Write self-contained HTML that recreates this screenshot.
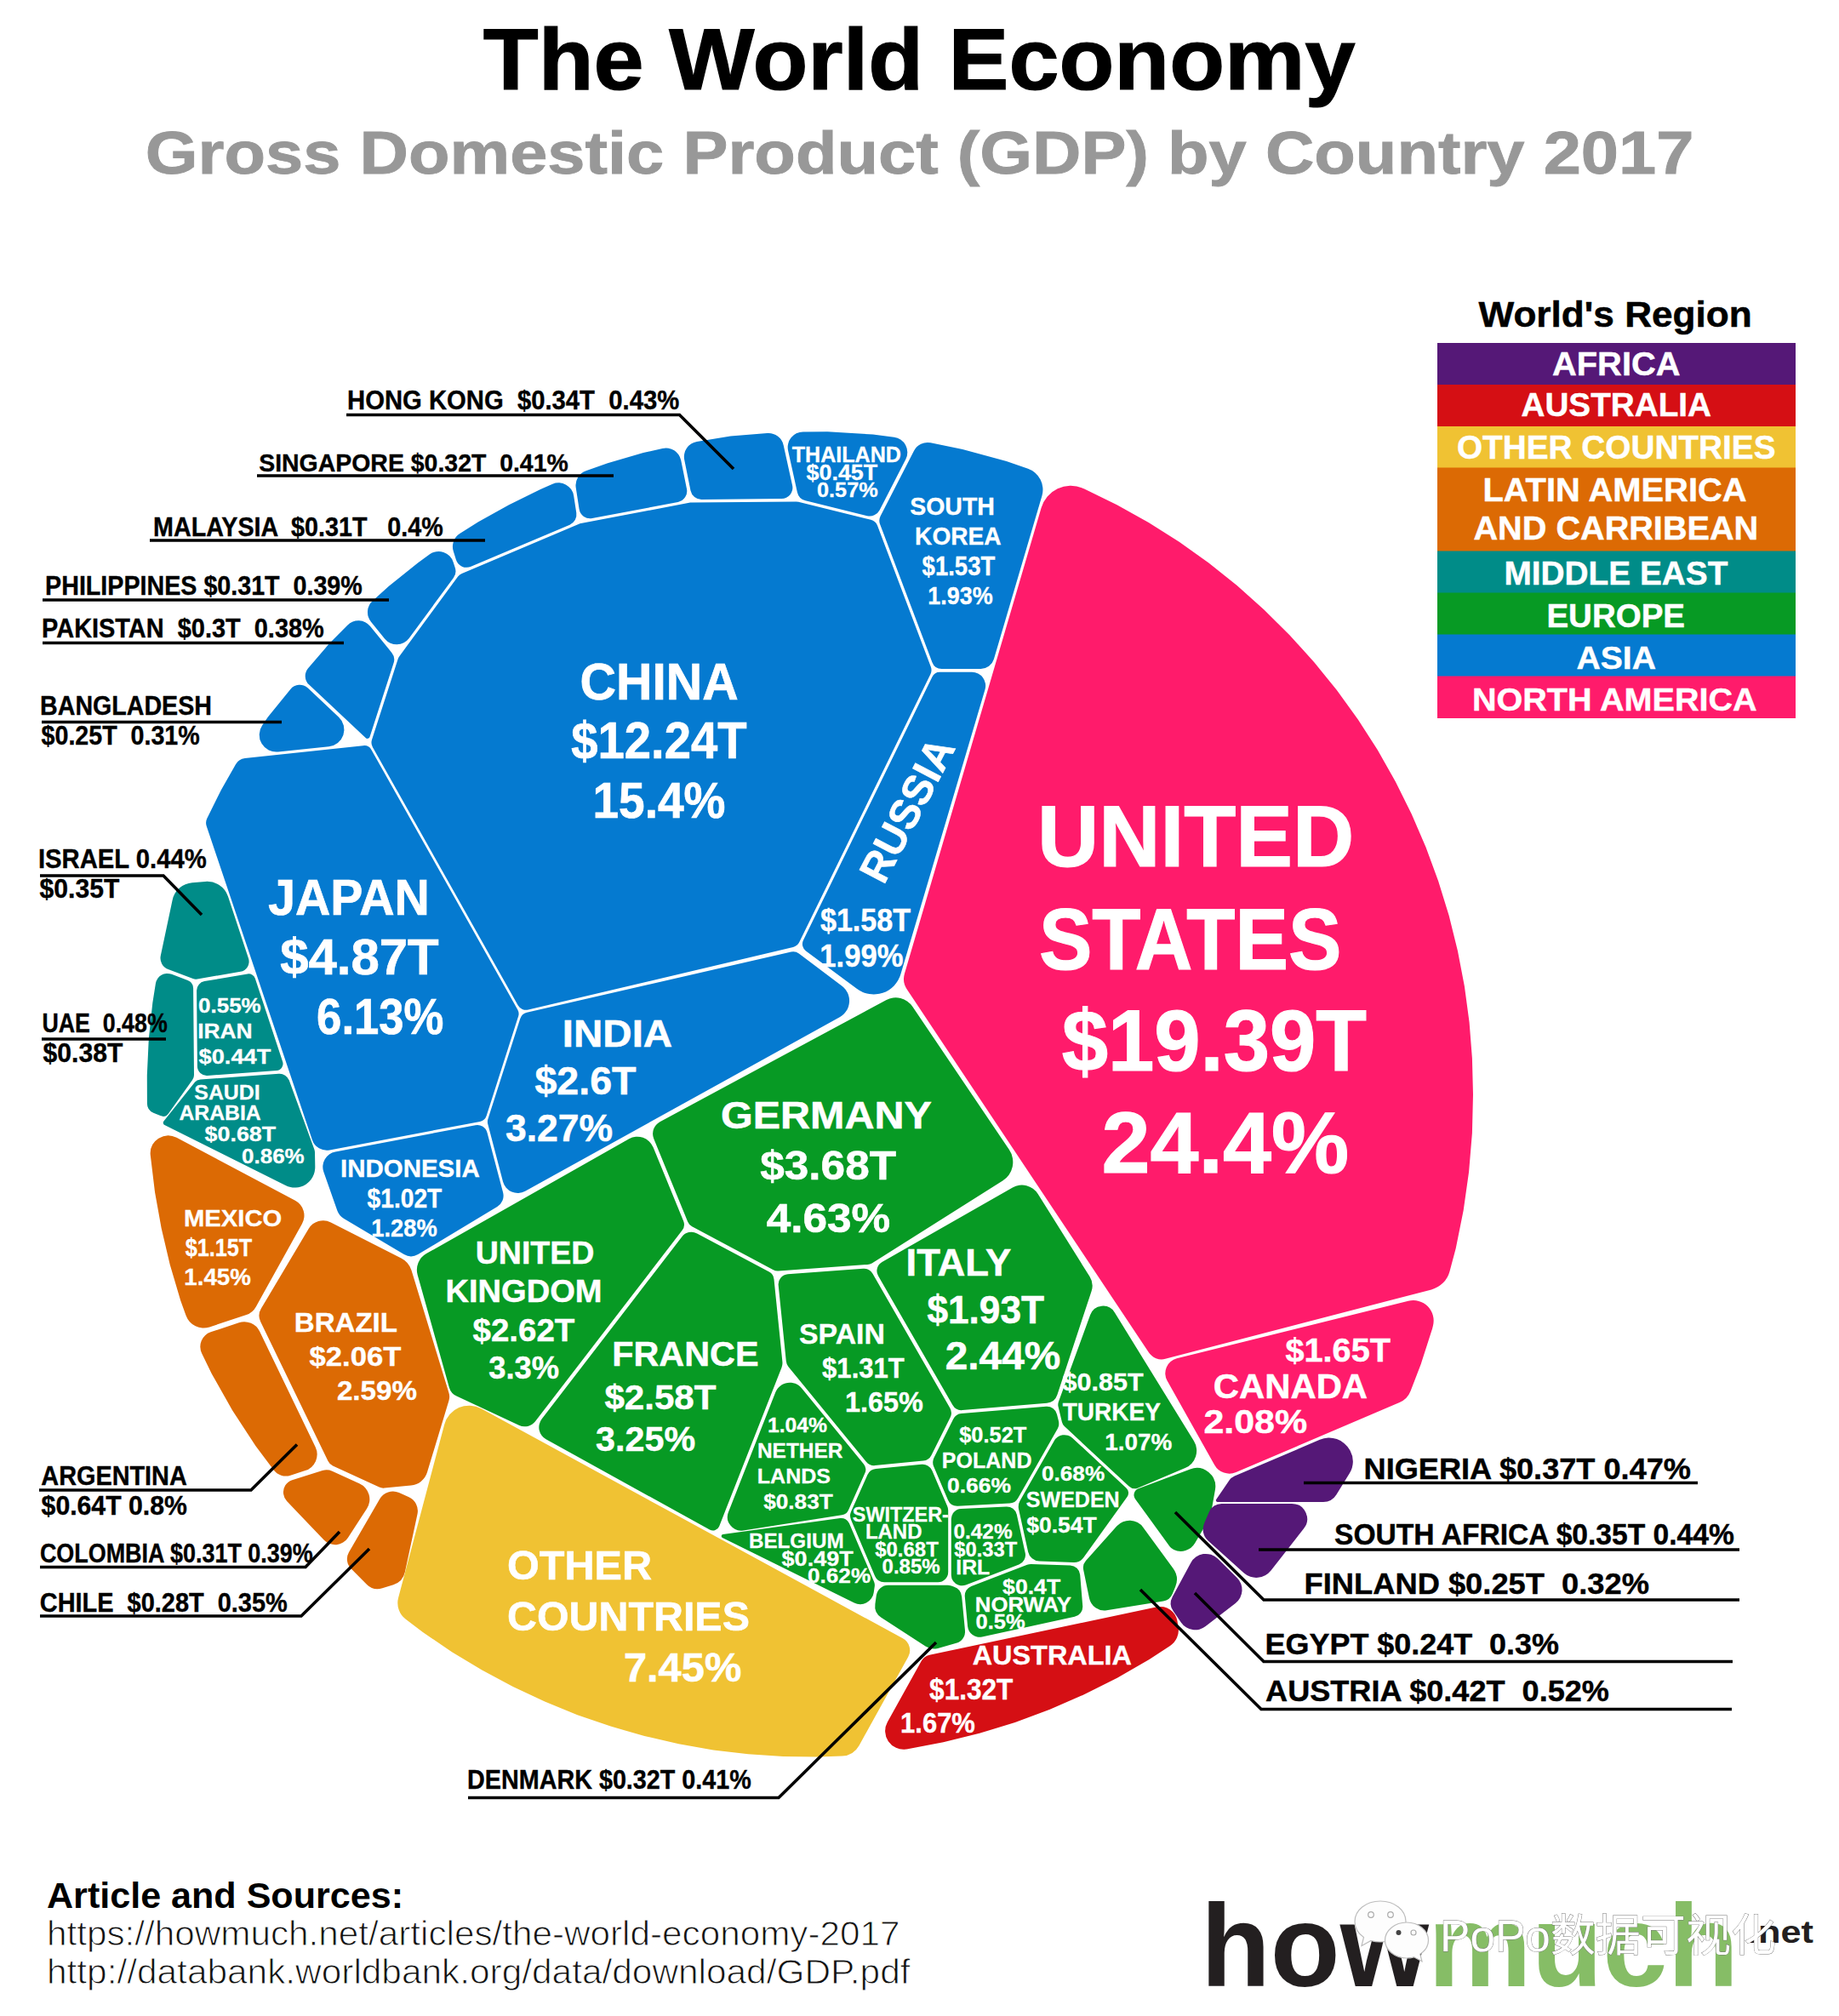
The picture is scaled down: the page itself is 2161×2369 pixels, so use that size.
<!DOCTYPE html><html><head><meta charset="utf-8"><title>The World Economy</title>
<style>html,body{margin:0;padding:0;background:#fff}svg{display:block}text{font-family:"Liberation Sans","Noto Sans CJK SC",sans-serif;font-weight:bold}.lt text,text.wm{font-weight:normal}</style></head><body>
<svg xmlns="http://www.w3.org/2000/svg" width="2161" height="2369" viewBox="0 0 2161 2369">
<rect width="2161" height="2369" fill="#fff"/>
<rect x="1689" y="403.0" width="421" height="49.5" fill="#551877"/>
<rect x="1689" y="452.0" width="421" height="49.5" fill="#d50f14"/>
<rect x="1689" y="501.0" width="421" height="49.0" fill="#f0c233"/>
<rect x="1689" y="549.5" width="421" height="98.5" fill="#dc6a04"/>
<rect x="1689" y="647.5" width="421" height="49.5" fill="#008c88"/>
<rect x="1689" y="696.5" width="421" height="49.5" fill="#079a24"/>
<rect x="1689" y="745.5" width="421" height="49.5" fill="#057ad0"/>
<rect x="1689" y="794.5" width="421" height="49.5" fill="#ff1b6b"/>
<g>
<path d="M804.2 540.3A18.0 18.0 0 0 1 818.9 519.0L858.4 512.6L901.6 509.1A18.0 18.0 0 0 1 920.7 523.2L931.1 570.4A13.0 13.0 0 0 1 918.5 586.1L824.3 586.9A13.0 13.0 0 0 1 811.5 576.5Z" fill="#057ad0"/>
<path d="M676.7 572.9A18.0 18.0 0 0 1 688.6 553.2L714.1 544.2L756.0 532.1L778.5 526.9A18.0 18.0 0 0 1 800.2 540.8L807.0 574.5A13.0 13.0 0 0 1 796.7 589.9L695.9 609.1A13.0 13.0 0 0 1 680.6 598.3Z" fill="#057ad0"/>
<path d="M532.8 647.8A18.0 18.0 0 0 1 540.3 627.1L562.1 613.3L598.1 593.2L635.1 574.9L649.3 568.8A18.0 18.0 0 0 1 674.2 582.7L677.3 602.8A13.0 13.0 0 0 1 669.5 616.7L553.4 665.8A13.0 13.0 0 0 1 535.9 657.7Z" fill="#057ad0"/>
<path d="M436.0 730.8A18.0 18.0 0 0 1 437.9 706.1L456.7 689.0L491.3 661.2L505.0 651.3A18.0 18.0 0 0 1 532.6 660.5L534.8 667.3A13.0 13.0 0 0 1 532.9 679.0L480.7 750.0A18.0 18.0 0 0 1 452.2 750.7Z" fill="#057ad0"/>
<path d="M363.1 804.6A14.0 14.0 0 0 1 362.1 785.3L386.7 756.6L408.3 734.7A18.0 18.0 0 0 1 435.1 735.9L460.3 766.9A13.0 13.0 0 0 1 462.6 779.1L434.5 865.9A3.0 3.0 0 0 1 429.6 867.1Z" fill="#057ad0"/>
<path d="M326.8 883.5A20.0 20.0 0 0 1 308.2 852.3L314.9 842.6L341.3 810.0A14.0 14.0 0 0 1 361.8 808.6L398.1 842.7A20.0 20.0 0 0 1 386.5 877.2Z" fill="#057ad0"/>
<path d="M242.7 970.7A12.0 12.0 0 0 1 243.4 961.5L259.9 928.2L277.1 897.9A14.0 14.0 0 0 1 287.8 890.9L426.7 876.2A10.0 10.0 0 0 1 436.5 881.2L608.3 1186.4A10.0 10.0 0 0 1 609.1 1194.3L571.7 1311.1A10.0 10.0 0 0 1 564.1 1317.9L387.4 1351.5A18.0 18.0 0 0 1 366.9 1339.5Z" fill="#057ad0"/>
<path d="M538.1 677.6A11.0 11.0 0 0 1 542.7 674.0L680.3 615.8A11.0 11.0 0 0 1 682.6 615.1L811.2 590.6A11.0 11.0 0 0 1 813.1 590.4L935.5 589.4A11.0 11.0 0 0 1 938.2 589.7L1023.3 610.8A11.0 11.0 0 0 1 1031.0 617.6L1093.8 783.5A11.0 11.0 0 0 1 1093.4 792.2L939.3 1107.1A11.0 11.0 0 0 1 932.0 1113.0L620.8 1186.5A11.0 11.0 0 0 1 608.6 1181.2L437.9 878.0A11.0 11.0 0 0 1 437.0 869.3L467.7 774.3A11.0 11.0 0 0 1 469.3 771.2Z" fill="#057ad0"/>
<path d="M926.1 529.4A18.0 18.0 0 0 1 943.6 507.5L972.4 507.3L1025.8 510.5L1050.6 513.7A18.0 18.0 0 0 1 1064.3 539.8L1033.6 599.5A13.0 13.0 0 0 1 1019.0 606.2L946.5 588.3A13.0 13.0 0 0 1 936.9 578.5Z" fill="#057ad0"/>
<path d="M1074.0 529.8A18.0 18.0 0 0 1 1093.5 520.3L1131.1 527.9L1182.7 541.9L1208.0 550.8A26.0 26.0 0 0 1 1224.4 582.7L1167.9 774.5A16.0 16.0 0 0 1 1152.5 786.0L1106.7 786.0A12.0 12.0 0 0 1 1095.4 778.2L1034.1 616.1A12.0 12.0 0 0 1 1034.6 606.4Z" fill="#057ad0"/>
<path d="M1095.4 795.4A10.0 10.0 0 0 1 1104.4 789.8L1142.2 789.8A16.0 16.0 0 0 1 1157.5 810.3L1058.4 1144.8A33.0 33.0 0 0 1 1007.1 1162.0L947.0 1117.4A10.0 10.0 0 0 1 943.9 1105.0Z" fill="#057ad0"/>
<path d="M611.2 1197.2A11.0 11.0 0 0 1 619.2 1189.8L929.7 1118.6A11.0 11.0 0 0 1 938.8 1120.6L989.2 1158.4A22.0 22.0 0 0 1 986.7 1195.3L617.1 1399.7A18.0 18.0 0 0 1 591.0 1388.5L573.3 1321.1A11.0 11.0 0 0 1 573.4 1315.0Z" fill="#057ad0"/>
<path d="M380.3 1377.1A18.0 18.0 0 0 1 394.0 1353.5L558.7 1322.2A12.0 12.0 0 0 1 572.5 1330.9L591.1 1401.3A15.0 15.0 0 0 1 584.3 1418.0L491.2 1474.0A16.0 16.0 0 0 1 474.8 1474.0L404.1 1432.1A18.0 18.0 0 0 1 396.3 1422.6Z" fill="#057ad0"/>
<path d="M202.6 1057.7A26.0 26.0 0 0 1 225.9 1037.2L241.1 1035.9A26.0 26.0 0 0 1 268.0 1053.6L292.0 1126.2A12.0 12.0 0 0 1 282.6 1141.8L231.9 1150.5A10.0 10.0 0 0 1 226.7 1150.0L197.6 1139.0A14.0 14.0 0 0 1 188.8 1123.0Z" fill="#008c88"/>
<path d="M182.9 1155.7A14.0 14.0 0 0 1 201.7 1144.8L220.6 1152.0A10.0 10.0 0 0 1 227.1 1161.2L228.0 1263.1A10.0 10.0 0 0 1 226.1 1269.0L198.0 1308.4A8.0 8.0 0 0 1 188.4 1311.1L180.3 1307.7A12.0 12.0 0 0 1 172.9 1296.7L172.8 1263.4L174.8 1220.8L179.3 1178.5Z" fill="#008c88"/>
<path d="M231.1 1164.0A11.0 11.0 0 0 1 240.2 1153.1L290.9 1144.4A8.0 8.0 0 0 1 299.8 1149.8L332.1 1247.5A8.0 8.0 0 0 1 325.1 1258.0L243.7 1264.0A11.0 11.0 0 0 1 231.9 1253.1Z" fill="#008c88"/>
<path d="M228.3 1272.4A10.0 10.0 0 0 1 235.4 1268.6L327.6 1261.8A12.0 12.0 0 0 1 339.8 1269.6L369.4 1350.8A10.0 10.0 0 0 1 370.0 1354.1L370.3 1371.2A24.0 24.0 0 0 1 335.6 1393.1L193.4 1322.0A3.0 3.0 0 0 1 192.4 1317.4Z" fill="#008c88"/>
<path d="M176.7 1356.6A21.0 21.0 0 0 1 207.5 1336.8L346.9 1410.7A20.0 20.0 0 0 1 355.0 1438.0L300.7 1535.7A20.0 20.0 0 0 1 289.6 1545.0L246.2 1559.4A22.0 22.0 0 0 1 218.6 1546.0L212.1 1527.9L199.7 1486.1L189.7 1443.6L182.0 1400.7L176.8 1357.4Z" fill="#dc6a04"/>
<path d="M362.6 1444.0A20.0 20.0 0 0 1 388.8 1436.4L471.4 1478.5A24.0 24.0 0 0 1 483.5 1492.8L527.4 1636.4A16.0 16.0 0 0 1 527.5 1645.7L502.0 1730.1A22.0 22.0 0 0 1 483.0 1745.6L451.7 1748.6A12.0 12.0 0 0 1 445.6 1747.6L391.1 1722.5A12.0 12.0 0 0 1 385.4 1716.8L306.1 1552.9A16.0 16.0 0 0 1 306.8 1537.8Z" fill="#dc6a04"/>
<path d="M237.1 1590.2A18.0 18.0 0 0 1 247.6 1565.3L280.8 1554.2A20.0 20.0 0 0 1 305.1 1564.5L370.7 1700.4A20.0 20.0 0 0 1 358.7 1728.1L341.3 1733.7A18.0 18.0 0 0 1 321.5 1727.3L300.5 1699.3L273.2 1657.6L248.6 1614.0Z" fill="#dc6a04"/>
<path d="M333.1 1755.6A14.8 14.8 0 0 1 343.3 1739.3L378.9 1728.1A16.0 16.0 0 0 1 390.4 1728.8L422.7 1743.6A20.0 20.0 0 0 1 431.1 1772.7L408.9 1807.0A18.0 18.0 0 0 1 380.8 1809.7L337.1 1764.1A14.8 14.8 0 0 1 333.2 1755.9Z" fill="#dc6a04"/>
<path d="M446.2 1761.6A18.0 18.0 0 0 1 468.9 1754.1L480.0 1758.9A18.0 18.0 0 0 1 490.5 1779.2L475.9 1847.3A20.0 20.0 0 0 1 462.3 1862.2L449.3 1866.3A18.0 18.0 0 0 1 431.1 1861.9L412.5 1843.2A16.0 16.0 0 0 1 410.0 1823.9Z" fill="#dc6a04"/>
<path d="M522.2 1673.9A30.0 30.0 0 0 1 565.5 1655.3L1060.9 1925.3A16.0 16.0 0 0 1 1067.2 1947.1L1009.5 2051.2A24.0 24.0 0 0 1 989.5 2063.5L961.7 2064.6L920.4 2064.1L879.2 2061.3L838.2 2056.4L797.5 2049.3L757.3 2040.0L717.5 2028.6L678.5 2015.2L640.2 1999.6L602.8 1982.1L566.4 1962.6L531.0 1941.2L496.9 1918.0L476.8 1902.7A24.0 24.0 0 0 1 468.1 1877.5Z" fill="#f0c233"/>
<path d="M1041.2 1175.2A24.0 24.0 0 0 1 1072.4 1182.9L1185.9 1351.1A26.0 26.0 0 0 1 1178.2 1387.6L1024.6 1484.4A11.0 11.0 0 0 1 1019.5 1486.0L914.6 1493.5A11.0 11.0 0 0 1 908.7 1492.3L813.2 1441.3A11.0 11.0 0 0 1 808.2 1435.8L768.3 1338.3A16.0 16.0 0 0 1 775.5 1318.2Z" fill="#079a24"/>
<path d="M739.2 1338.3A20.0 20.0 0 0 1 767.5 1348.1L803.1 1434.8A11.0 11.0 0 0 1 801.6 1445.7L629.2 1670.1A16.0 16.0 0 0 1 609.7 1674.8L536.5 1640.5A16.0 16.0 0 0 1 527.9 1630.4L490.7 1498.2A22.0 22.0 0 0 1 501.1 1473.1Z" fill="#079a24"/>
<path d="M801.4 1453.2A14.0 14.0 0 0 1 819.1 1449.4L903.8 1494.6A11.0 11.0 0 0 1 909.5 1503.2L919.4 1600.3A14.0 14.0 0 0 1 918.5 1606.9L845.2 1793.4A8.0 8.0 0 0 1 833.9 1797.5L641.6 1691.3A16.0 16.0 0 0 1 636.6 1667.6Z" fill="#079a24"/>
<path d="M914.7 1510.3A12.0 12.0 0 0 1 925.8 1497.2L1014.3 1490.8A12.0 12.0 0 0 1 1025.5 1496.8L1116.3 1654.5A12.0 12.0 0 0 1 1116.6 1665.8L1094.5 1710.0A12.0 12.0 0 0 1 1085.0 1716.6L1028.3 1722.1A12.0 12.0 0 0 1 1017.9 1717.7L926.4 1605.9A12.0 12.0 0 0 1 923.8 1599.5Z" fill="#079a24"/>
<path d="M1032.0 1499.3A12.0 12.0 0 0 1 1036.5 1482.9L1189.9 1395.4A22.0 22.0 0 0 1 1219.5 1402.8L1280.6 1500.3A20.0 20.0 0 0 1 1282.6 1517.2L1242.3 1639.2A14.0 14.0 0 0 1 1230.2 1648.7L1130.8 1657.1A12.0 12.0 0 0 1 1119.4 1651.1Z" fill="#079a24"/>
<path d="M911.3 1636.1A18.0 18.0 0 0 1 942.0 1631.3L1015.0 1720.5A10.0 10.0 0 0 1 1016.4 1730.9L997.0 1774.4A10.0 10.0 0 0 1 989.4 1780.2L873.4 1798.4A16.0 16.0 0 0 1 856.0 1776.7Z" fill="#079a24"/>
<path d="M848.9 1806.9A2.0 2.0 0 0 1 849.5 1803.1L987.3 1784.0A10.0 10.0 0 0 1 997.9 1790.0L1027.1 1858.7A10.0 10.0 0 0 1 1027.8 1864.0L1026.7 1871.4A16.0 16.0 0 0 1 1003.8 1883.5Z" fill="#079a24"/>
<path d="M1019.4 1733.1A12.0 12.0 0 0 1 1029.2 1726.0L1083.1 1720.8A12.0 12.0 0 0 1 1095.3 1728.0L1113.2 1770.1A12.0 12.0 0 0 1 1114.2 1774.8L1114.2 1847.2A12.0 12.0 0 0 1 1102.2 1859.2L1039.1 1859.2A12.0 12.0 0 0 1 1028.1 1851.9L1000.0 1785.8A12.0 12.0 0 0 1 1000.1 1776.2Z" fill="#079a24"/>
<path d="M1097.2 1723.2A12.0 12.0 0 0 1 1097.5 1713.1L1120.1 1667.7A12.0 12.0 0 0 1 1129.9 1661.1L1229.3 1652.8A12.0 12.0 0 0 1 1242.0 1661.9L1244.0 1670.1A12.0 12.0 0 0 1 1242.7 1678.9L1196.2 1760.5A12.0 12.0 0 0 1 1186.4 1766.6L1125.5 1769.7A12.0 12.0 0 0 1 1113.9 1762.4Z" fill="#079a24"/>
<path d="M1117.8 1785.1A12.0 12.0 0 0 1 1129.2 1773.1L1182.4 1770.4A12.0 12.0 0 0 1 1194.8 1779.8L1204.7 1824.8A12.0 12.0 0 0 1 1197.3 1838.6L1135.0 1862.5A12.0 12.0 0 0 1 1126.9 1862.7L1126.0 1862.4A12.0 12.0 0 0 1 1117.8 1851.1Z" fill="#079a24"/>
<path d="M1238.7 1693.2A14.0 14.0 0 0 1 1260.4 1689.9L1323.4 1748.4A8.0 8.0 0 0 1 1324.5 1759.0L1273.5 1830.1A14.0 14.0 0 0 1 1261.6 1835.9L1221.3 1834.6A14.0 14.0 0 0 1 1208.1 1823.6L1197.1 1773.6A14.0 14.0 0 0 1 1198.6 1763.6Z" fill="#079a24"/>
<path d="M1281.1 1545.2A16.0 16.0 0 0 1 1309.8 1542.2L1402.9 1693.3A22.0 22.0 0 0 1 1392.7 1725.1L1337.3 1748.4A10.0 10.0 0 0 1 1326.6 1746.5L1250.8 1676.1A10.0 10.0 0 0 1 1247.9 1671.1L1243.6 1653.0A10.0 10.0 0 0 1 1243.9 1647.3Z" fill="#079a24"/>
<path d="M1334.0 1761.4A8.0 8.0 0 0 1 1337.7 1749.2L1398.5 1726.4A22.0 22.0 0 0 1 1427.9 1750.8L1422.8 1779.6A16.0 16.0 0 0 1 1420.9 1784.8L1404.2 1813.3A19.3 19.3 0 0 1 1379.2 1821.0L1378.9 1820.8A11.6 11.6 0 0 1 1374.5 1817.2Z" fill="#079a24"/>
<path d="M1312.4 1793.3A20.0 20.0 0 0 1 1343.4 1794.9L1378.7 1843.3A22.0 22.0 0 0 1 1381.2 1864.6L1377.7 1873.1A14.0 14.0 0 0 1 1367.0 1881.6L1300.5 1892.2A18.0 18.0 0 0 1 1280.0 1878.0L1273.1 1844.4A12.0 12.0 0 0 1 1276.0 1834.0Z" fill="#079a24"/>
<path d="M1133.8 1876.3A12.0 12.0 0 0 1 1141.4 1863.9L1207.0 1838.7A12.0 12.0 0 0 1 1211.7 1837.9L1257.6 1839.4A12.0 12.0 0 0 1 1269.2 1850.4L1272.2 1887.1A12.0 12.0 0 0 1 1262.8 1899.8L1154.0 1923.5A14.0 14.0 0 0 1 1137.1 1911.1Z" fill="#079a24"/>
<path d="M1029.8 1874.8A14.0 14.0 0 0 1 1043.7 1862.8L1113.4 1862.8A14.0 14.0 0 0 1 1117.9 1863.5L1120.7 1864.5A14.0 14.0 0 0 1 1130.2 1876.4L1134.0 1916.0A14.0 14.0 0 0 1 1123.8 1930.8L1102.1 1936.9A18.0 18.0 0 0 1 1087.5 1934.6L1035.5 1900.7A16.0 16.0 0 0 1 1028.4 1885.0Z" fill="#079a24"/>
<path d="M1082.9 1951.6A14.0 14.0 0 0 1 1092.2 1944.7L1359.6 1888.3A20.0 20.0 0 0 1 1383.4 1904.6L1384.6 1911.8A22.0 22.0 0 0 1 1375.0 1933.9L1350.5 1949.9L1312.8 1971.7L1273.8 1991.3L1233.7 2008.8L1192.8 2024.0L1151.0 2036.8L1108.5 2047.3L1065.4 2055.4L1064.6 2055.5A21.6 21.6 0 0 1 1042.9 2023.5Z" fill="#d50f14"/>
<path d="M1430.8 1765.0A2.0 2.0 0 0 1 1429.2 1761.9L1444.7 1739.3A14.0 14.0 0 0 1 1450.7 1734.4L1550.9 1691.8A27.9 27.9 0 0 1 1586.2 1704.0L1586.6 1704.7A26.0 26.0 0 0 1 1586.0 1730.9L1570.3 1756.5A18.0 18.0 0 0 1 1555.0 1765.0Z" fill="#551877"/>
<path d="M1420.8 1776.7A16.0 16.0 0 0 1 1435.6 1767.0L1518.0 1767.0A18.0 18.0 0 0 1 1532.2 1796.1L1493.5 1845.5A22.0 22.0 0 0 1 1461.5 1848.3L1419.6 1810.6A18.0 18.0 0 0 1 1415.1 1790.1Z" fill="#551877"/>
<path d="M1399.3 1836.4A20.0 20.0 0 0 1 1430.9 1831.6L1453.6 1853.9A20.0 20.0 0 0 1 1451.8 1884.0L1416.7 1911.1A20.0 20.0 0 0 1 1388.0 1906.7L1378.6 1893.1A16.0 16.0 0 0 1 1377.7 1876.4Z" fill="#551877"/>
<path d="M1223.6 596.7A36.0 36.0 0 0 1 1272.2 573.7L1274.2 574.6L1312.5 593.3L1349.7 614.1L1385.7 636.8L1420.4 661.5L1453.6 688.1L1485.4 716.4L1515.6 746.4L1544.1 777.9L1570.9 811.0L1595.8 845.5L1618.8 881.3L1639.7 918.3L1658.7 956.4L1675.5 995.5L1690.2 1035.4L1702.7 1076.0L1712.9 1117.3L1720.9 1159.0L1726.6 1201.2L1729.9 1243.5L1731.0 1286.0L1729.9 1331.6L1726.1 1377.0L1719.7 1422.2L1710.7 1466.9L1703.5 1494.0A30.0 30.0 0 0 1 1682.0 1515.4L1369.4 1596.8A18.0 18.0 0 0 1 1349.9 1589.3L1065.7 1162.5A22.0 22.0 0 0 1 1062.9 1144.2Z" fill="#ff1b6b"/>
<path d="M1371.6 1622.6A18.0 18.0 0 0 1 1382.9 1596.3L1654.9 1528.7A24.0 24.0 0 0 1 1683.9 1558.0L1683.1 1561.2L1669.7 1602.9L1657.6 1634.5A24.0 24.0 0 0 1 1644.6 1648.0L1452.5 1730.0A20.0 20.0 0 0 1 1427.2 1721.4Z" fill="#ff1b6b"/>
</g>
<g fill="none" stroke="#000" stroke-width="3.6" stroke-linejoin="miter">
<polyline points="407.0,487.5 798.5,487.5 862.0,551.0"/>
<polyline points="302.0,559.0 721.0,559.0"/>
<polyline points="176.0,635.0 570.0,635.0"/>
<polyline points="50.0,705.0 457.0,705.0"/>
<polyline points="50.0,755.5 404.0,755.5"/>
<polyline points="49.0,848.5 331.0,848.5"/>
<polyline points="47.0,1029.0 192.0,1029.0 237.0,1075.0"/>
<polyline points="49.0,1221.0 195.0,1221.0"/>
<polyline points="46.0,1751.0 295.0,1751.0 349.0,1697.5"/>
<polyline points="47.0,1841.5 359.0,1841.5 399.0,1800.0"/>
<polyline points="47.0,1899.0 354.0,1899.0 434.0,1820.0"/>
<polyline points="550.0,2112.5 915.0,2112.5 1100.0,1930.0"/>
<polyline points="1532.0,1742.5 1995.0,1742.5"/>
<polyline points="1479.0,1821.0 2044.0,1821.0"/>
<polyline points="2044.0,1880.0 1485.0,1880.0 1381.0,1777.0"/>
<polyline points="2036.0,1952.5 1485.0,1952.5 1404.0,1872.0"/>
<polyline points="2035.0,2008.5 1482.0,2008.5 1340.0,1868.0"/>
</g>
<text x="567.8" y="104.5" font-size="102.5" textLength="1024.8" lengthAdjust="spacingAndGlyphs" fill="#000" stroke="#000" stroke-width="1.23" xml:space="preserve">The World Economy</text>
<text x="170.7" y="203.5" font-size="71.2" textLength="1819.8" lengthAdjust="spacingAndGlyphs" fill="#989898" stroke="#989898" stroke-width="0.85" xml:space="preserve">Gross Domestic Product (GDP) by Country 2017</text>
<text x="1737.5" y="384.0" font-size="42.2" textLength="321.3" lengthAdjust="spacingAndGlyphs" fill="#000" stroke="#000" stroke-width="0.51" xml:space="preserve">World's Region</text>
<text x="1824.0" y="441.0" font-size="39.2" textLength="150.5" lengthAdjust="spacingAndGlyphs" fill="#fff" stroke="#fff" stroke-width="0.47" xml:space="preserve">AFRICA</text>
<text x="1787.5" y="489.0" font-size="38.5" textLength="223.5" lengthAdjust="spacingAndGlyphs" fill="#fff" stroke="#fff" stroke-width="0.46" xml:space="preserve">AUSTRALIA</text>
<text x="1711.9" y="539.0" font-size="38.5" textLength="374.6" lengthAdjust="spacingAndGlyphs" fill="#fff" stroke="#fff" stroke-width="0.46" xml:space="preserve">OTHER COUNTRIES</text>
<text x="1742.4" y="589.0" font-size="38.5" textLength="310.2" lengthAdjust="spacingAndGlyphs" fill="#fff" stroke="#fff" stroke-width="0.46" xml:space="preserve">LATIN AMERICA</text>
<text x="1731.5" y="633.5" font-size="39.2" textLength="334.7" lengthAdjust="spacingAndGlyphs" fill="#fff" stroke="#fff" stroke-width="0.47" xml:space="preserve">AND CARRIBEAN</text>
<text x="1767.4" y="687.0" font-size="39.2" textLength="263.0" lengthAdjust="spacingAndGlyphs" fill="#fff" stroke="#fff" stroke-width="0.47" xml:space="preserve">MIDDLE EAST</text>
<text x="1817.4" y="736.5" font-size="38.5" textLength="162.6" lengthAdjust="spacingAndGlyphs" fill="#fff" stroke="#fff" stroke-width="0.46" xml:space="preserve">EUROPE</text>
<text x="1852.5" y="786.0" font-size="37.8" textLength="93.5" lengthAdjust="spacingAndGlyphs" fill="#fff" stroke="#fff" stroke-width="0.45" xml:space="preserve">ASIA</text>
<text x="1729.9" y="835.0" font-size="37.8" textLength="334.7" lengthAdjust="spacingAndGlyphs" fill="#fff" stroke="#fff" stroke-width="0.45" xml:space="preserve">NORTH AMERICA</text>
<text x="408.0" y="481.0" font-size="30.5" textLength="390.2" lengthAdjust="spacingAndGlyphs" fill="#000" stroke="#000" stroke-width="0.37" xml:space="preserve">HONG KONG  $0.34T  0.43%</text>
<text x="304.2" y="554.0" font-size="29.8" textLength="363.6" lengthAdjust="spacingAndGlyphs" fill="#000" stroke="#000" stroke-width="0.36" xml:space="preserve">SINGAPORE $0.32T  0.41%</text>
<text x="180.1" y="630.0" font-size="30.5" textLength="340.6" lengthAdjust="spacingAndGlyphs" fill="#000" stroke="#000" stroke-width="0.37" xml:space="preserve">MALAYSIA  $0.31T   0.4%</text>
<text x="53.1" y="699.0" font-size="30.5" textLength="372.7" lengthAdjust="spacingAndGlyphs" fill="#000" stroke="#000" stroke-width="0.37" xml:space="preserve">PHILIPPINES $0.31T  0.39%</text>
<text x="49.1" y="748.5" font-size="30.5" textLength="331.7" lengthAdjust="spacingAndGlyphs" fill="#000" stroke="#000" stroke-width="0.37" xml:space="preserve">PAKISTAN  $0.3T  0.38%</text>
<text x="47.1" y="840.0" font-size="30.5" textLength="201.8" lengthAdjust="spacingAndGlyphs" fill="#000" stroke="#000" stroke-width="0.37" xml:space="preserve">BANGLADESH</text>
<text x="48.6" y="875.0" font-size="30.5" textLength="186.1" lengthAdjust="spacingAndGlyphs" fill="#000" stroke="#000" stroke-width="0.37" xml:space="preserve">$0.25T  0.31%</text>
<text x="45.0" y="1020.0" font-size="30.5" textLength="197.7" lengthAdjust="spacingAndGlyphs" fill="#000" stroke="#000" stroke-width="0.37" xml:space="preserve">ISRAEL 0.44%</text>
<text x="46.6" y="1055.0" font-size="30.5" textLength="93.7" lengthAdjust="spacingAndGlyphs" fill="#000" stroke="#000" stroke-width="0.37" xml:space="preserve">$0.35T</text>
<text x="49.4" y="1213.0" font-size="30.5" textLength="147.3" lengthAdjust="spacingAndGlyphs" fill="#000" stroke="#000" stroke-width="0.37" xml:space="preserve">UAE  0.48%</text>
<text x="50.6" y="1248.0" font-size="30.5" textLength="93.7" lengthAdjust="spacingAndGlyphs" fill="#000" stroke="#000" stroke-width="0.37" xml:space="preserve">$0.38T</text>
<text x="48.3" y="1745.0" font-size="30.5" textLength="171.5" lengthAdjust="spacingAndGlyphs" fill="#000" stroke="#000" stroke-width="0.37" xml:space="preserve">ARGENTINA</text>
<text x="48.6" y="1780.0" font-size="30.5" textLength="171.2" lengthAdjust="spacingAndGlyphs" fill="#000" stroke="#000" stroke-width="0.37" xml:space="preserve">$0.64T 0.8%</text>
<text x="46.9" y="1836.0" font-size="30.5" textLength="320.8" lengthAdjust="spacingAndGlyphs" fill="#000" stroke="#000" stroke-width="0.37" xml:space="preserve">COLOMBIA $0.31T 0.39%</text>
<text x="46.8" y="1893.5" font-size="30.5" textLength="290.9" lengthAdjust="spacingAndGlyphs" fill="#000" stroke="#000" stroke-width="0.37" xml:space="preserve">CHILE  $0.28T  0.35%</text>
<text x="549.1" y="2102.0" font-size="30.5" textLength="333.7" lengthAdjust="spacingAndGlyphs" fill="#000" stroke="#000" stroke-width="0.37" xml:space="preserve">DENMARK $0.32T 0.41%</text>
<text x="1602.6" y="1737.5" font-size="34.2" textLength="384.4" lengthAdjust="spacingAndGlyphs" fill="#000" stroke="#000" stroke-width="0.41" xml:space="preserve">NIGERIA $0.37T 0.47%</text>
<text x="1568.0" y="1815.0" font-size="34.2" textLength="469.8" lengthAdjust="spacingAndGlyphs" fill="#000" stroke="#000" stroke-width="0.41" xml:space="preserve">SOUTH AFRICA $0.35T 0.44%</text>
<text x="1532.6" y="1872.5" font-size="34.2" textLength="405.4" lengthAdjust="spacingAndGlyphs" fill="#000" stroke="#000" stroke-width="0.41" xml:space="preserve">FINLAND $0.25T  0.32%</text>
<text x="1486.6" y="1944.0" font-size="34.2" textLength="345.3" lengthAdjust="spacingAndGlyphs" fill="#000" stroke="#000" stroke-width="0.41" xml:space="preserve">EGYPT $0.24T  0.3%</text>
<text x="1487.1" y="1999.0" font-size="34.2" textLength="403.8" lengthAdjust="spacingAndGlyphs" fill="#000" stroke="#000" stroke-width="0.41" xml:space="preserve">AUSTRIA $0.42T  0.52%</text>
<text x="681.6" y="821.5" font-size="60.3" textLength="186.0" lengthAdjust="spacingAndGlyphs" fill="#fff" stroke="#fff" stroke-width="0.72" xml:space="preserve">CHINA</text>
<text x="671.3" y="891.0" font-size="61.0" textLength="206.3" lengthAdjust="spacingAndGlyphs" fill="#fff" stroke="#fff" stroke-width="0.73" xml:space="preserve">$12.24T</text>
<text x="696.5" y="961.0" font-size="59.6" textLength="155.9" lengthAdjust="spacingAndGlyphs" fill="#fff" stroke="#fff" stroke-width="0.72" xml:space="preserve">15.4%</text>
<text x="315.2" y="1075.0" font-size="59.6" textLength="189.6" lengthAdjust="spacingAndGlyphs" fill="#fff" stroke="#fff" stroke-width="0.72" xml:space="preserve">JAPAN</text>
<text x="329.2" y="1145.0" font-size="59.6" textLength="186.4" lengthAdjust="spacingAndGlyphs" fill="#fff" stroke="#fff" stroke-width="0.72" xml:space="preserve">$4.87T</text>
<text x="372.1" y="1215.0" font-size="59.6" textLength="149.3" lengthAdjust="spacingAndGlyphs" fill="#fff" stroke="#fff" stroke-width="0.72" xml:space="preserve">6.13%</text>
<text x="660.8" y="1230.0" font-size="45.1" textLength="129.4" lengthAdjust="spacingAndGlyphs" fill="#fff" stroke="#fff" stroke-width="0.54" xml:space="preserve">INDIA</text>
<text x="628.4" y="1286.0" font-size="46.5" textLength="119.1" lengthAdjust="spacingAndGlyphs" fill="#fff" stroke="#fff" stroke-width="0.56" xml:space="preserve">$2.6T</text>
<text x="594.0" y="1341.0" font-size="45.1" textLength="126.2" lengthAdjust="spacingAndGlyphs" fill="#fff" stroke="#fff" stroke-width="0.54" xml:space="preserve">3.27%</text>
<text x="233.0" y="1190.0" font-size="24.0" textLength="73.7" lengthAdjust="spacingAndGlyphs" fill="#fff" stroke="#fff" stroke-width="0.29" xml:space="preserve">0.55%</text>
<text x="232.2" y="1220.0" font-size="24.0" textLength="64.5" lengthAdjust="spacingAndGlyphs" fill="#fff" stroke="#fff" stroke-width="0.29" xml:space="preserve">IRAN</text>
<text x="233.6" y="1250.0" font-size="24.7" textLength="84.7" lengthAdjust="spacingAndGlyphs" fill="#fff" stroke="#fff" stroke-width="0.30" xml:space="preserve">$0.44T</text>
<text x="228.3" y="1291.5" font-size="24.0" textLength="77.4" lengthAdjust="spacingAndGlyphs" fill="#fff" stroke="#fff" stroke-width="0.29" xml:space="preserve">SAUDI</text>
<text x="210.4" y="1316.0" font-size="24.0" textLength="96.3" lengthAdjust="spacingAndGlyphs" fill="#fff" stroke="#fff" stroke-width="0.29" xml:space="preserve">ARABIA</text>
<text x="240.6" y="1341.0" font-size="24.0" textLength="83.6" lengthAdjust="spacingAndGlyphs" fill="#fff" stroke="#fff" stroke-width="0.29" xml:space="preserve">$0.68T</text>
<text x="284.0" y="1366.5" font-size="24.0" textLength="73.7" lengthAdjust="spacingAndGlyphs" fill="#fff" stroke="#fff" stroke-width="0.29" xml:space="preserve">0.86%</text>
<text x="400.0" y="1382.5" font-size="29.1" textLength="163.7" lengthAdjust="spacingAndGlyphs" fill="#fff" stroke="#fff" stroke-width="0.35" xml:space="preserve">INDONESIA</text>
<text x="431.6" y="1418.5" font-size="30.5" textLength="87.7" lengthAdjust="spacingAndGlyphs" fill="#fff" stroke="#fff" stroke-width="0.37" xml:space="preserve">$1.02T</text>
<text x="436.3" y="1452.5" font-size="29.1" textLength="77.4" lengthAdjust="spacingAndGlyphs" fill="#fff" stroke="#fff" stroke-width="0.35" xml:space="preserve">1.28%</text>
<text x="930.7" y="542.5" font-size="25.4" textLength="128.3" lengthAdjust="spacingAndGlyphs" fill="#fff" stroke="#fff" stroke-width="0.31" xml:space="preserve">THAILAND</text>
<text x="947.6" y="564.0" font-size="25.4" textLength="83.6" lengthAdjust="spacingAndGlyphs" fill="#fff" stroke="#fff" stroke-width="0.31" xml:space="preserve">$0.45T</text>
<text x="960.0" y="584.0" font-size="24.7" textLength="71.7" lengthAdjust="spacingAndGlyphs" fill="#fff" stroke="#fff" stroke-width="0.30" xml:space="preserve">0.57%</text>
<text x="1069.2" y="605.0" font-size="29.1" textLength="99.7" lengthAdjust="spacingAndGlyphs" fill="#fff" stroke="#fff" stroke-width="0.35" xml:space="preserve">SOUTH</text>
<text x="1075.1" y="640.0" font-size="29.1" textLength="101.6" lengthAdjust="spacingAndGlyphs" fill="#fff" stroke="#fff" stroke-width="0.35" xml:space="preserve">KOREA</text>
<text x="1083.6" y="676.0" font-size="30.5" textLength="85.7" lengthAdjust="spacingAndGlyphs" fill="#fff" stroke="#fff" stroke-width="0.37" xml:space="preserve">$1.53T</text>
<text x="1090.3" y="710.0" font-size="29.1" textLength="76.4" lengthAdjust="spacingAndGlyphs" fill="#fff" stroke="#fff" stroke-width="0.35" xml:space="preserve">1.93%</text>
<text x="963.9" y="1094.0" font-size="37.8" textLength="106.3" lengthAdjust="spacingAndGlyphs" fill="#fff" stroke="#fff" stroke-width="0.45" xml:space="preserve">$1.58T</text>
<text x="963.3" y="1136.0" font-size="37.1" textLength="98.1" lengthAdjust="spacingAndGlyphs" fill="#fff" stroke="#fff" stroke-width="0.44" xml:space="preserve">1.99%</text>
<text transform="translate(1040.0 1038.0) rotate(-62.4)" x="-3.2" y="0" font-size="49.4" textLength="183.1" lengthAdjust="spacingAndGlyphs" fill="#fff" stroke="#fff" stroke-width="0.59">RUSSIA</text>
<text x="1219.0" y="1017.7" font-size="101.9" textLength="372.2" lengthAdjust="spacingAndGlyphs" fill="#fff" stroke="#fff" stroke-width="1.22" xml:space="preserve">UNITED</text>
<text x="1220.9" y="1138.7" font-size="101.9" textLength="355.6" lengthAdjust="spacingAndGlyphs" fill="#fff" stroke="#fff" stroke-width="1.22" xml:space="preserve">STATES</text>
<text x="1247.7" y="1258.4" font-size="101.3" textLength="358.3" lengthAdjust="spacingAndGlyphs" fill="#fff" stroke="#fff" stroke-width="1.22" xml:space="preserve">$19.39T</text>
<text x="1294.4" y="1378.0" font-size="102.0" textLength="290.7" lengthAdjust="spacingAndGlyphs" fill="#fff" stroke="#fff" stroke-width="1.22" xml:space="preserve">24.4%</text>
<text x="847.0" y="1325.5" font-size="44.3" textLength="247.8" lengthAdjust="spacingAndGlyphs" fill="#fff" stroke="#fff" stroke-width="0.53" xml:space="preserve">GERMANY</text>
<text x="893.3" y="1386.0" font-size="48.0" textLength="159.7" lengthAdjust="spacingAndGlyphs" fill="#fff" stroke="#fff" stroke-width="0.58" xml:space="preserve">$3.68T</text>
<text x="900.7" y="1447.5" font-size="48.7" textLength="145.6" lengthAdjust="spacingAndGlyphs" fill="#fff" stroke="#fff" stroke-width="0.58" xml:space="preserve">4.63%</text>
<text x="1064.6" y="1499.0" font-size="43.6" textLength="123.6" lengthAdjust="spacingAndGlyphs" fill="#fff" stroke="#fff" stroke-width="0.52" xml:space="preserve">ITALY</text>
<text x="1089.4" y="1555.0" font-size="46.5" textLength="137.6" lengthAdjust="spacingAndGlyphs" fill="#fff" stroke="#fff" stroke-width="0.56" xml:space="preserve">$1.93T</text>
<text x="1110.8" y="1609.0" font-size="45.8" textLength="135.4" lengthAdjust="spacingAndGlyphs" fill="#fff" stroke="#fff" stroke-width="0.55" xml:space="preserve">2.44%</text>
<text x="939.1" y="1578.5" font-size="32.7" textLength="100.7" lengthAdjust="spacingAndGlyphs" fill="#fff" stroke="#fff" stroke-width="0.39" xml:space="preserve">SPAIN</text>
<text x="966.1" y="1618.5" font-size="33.4" textLength="96.7" lengthAdjust="spacingAndGlyphs" fill="#fff" stroke="#fff" stroke-width="0.40" xml:space="preserve">$1.31T</text>
<text x="993.0" y="1658.5" font-size="32.7" textLength="91.9" lengthAdjust="spacingAndGlyphs" fill="#fff" stroke="#fff" stroke-width="0.39" xml:space="preserve">1.65%</text>
<text x="901.9" y="1682.5" font-size="24.0" textLength="70.2" lengthAdjust="spacingAndGlyphs" fill="#fff" stroke="#fff" stroke-width="0.29" xml:space="preserve">1.04%</text>
<text x="889.9" y="1712.5" font-size="24.0" textLength="100.6" lengthAdjust="spacingAndGlyphs" fill="#fff" stroke="#fff" stroke-width="0.29" xml:space="preserve">NETHER</text>
<text x="889.8" y="1742.5" font-size="24.0" textLength="86.2" lengthAdjust="spacingAndGlyphs" fill="#fff" stroke="#fff" stroke-width="0.29" xml:space="preserve">LANDS</text>
<text x="897.2" y="1772.5" font-size="24.7" textLength="81.6" lengthAdjust="spacingAndGlyphs" fill="#fff" stroke="#fff" stroke-width="0.30" xml:space="preserve">$0.83T</text>
<text x="879.9" y="1818.5" font-size="24.7" textLength="111.7" lengthAdjust="spacingAndGlyphs" fill="#fff" stroke="#fff" stroke-width="0.30" xml:space="preserve">BELGIUM</text>
<text x="918.6" y="1840.0" font-size="24.7" textLength="84.1" lengthAdjust="spacingAndGlyphs" fill="#fff" stroke="#fff" stroke-width="0.30" xml:space="preserve">$0.49T</text>
<text x="949.0" y="1860.0" font-size="24.7" textLength="74.2" lengthAdjust="spacingAndGlyphs" fill="#fff" stroke="#fff" stroke-width="0.30" xml:space="preserve">0.62%</text>
<text x="1001.8" y="1787.5" font-size="24.0" textLength="113.1" lengthAdjust="spacingAndGlyphs" fill="#fff" stroke="#fff" stroke-width="0.29" xml:space="preserve">SWITZER-</text>
<text x="1016.9" y="1807.5" font-size="24.0" textLength="66.6" lengthAdjust="spacingAndGlyphs" fill="#fff" stroke="#fff" stroke-width="0.29" xml:space="preserve">LAND</text>
<text x="1028.2" y="1828.5" font-size="24.7" textLength="74.6" lengthAdjust="spacingAndGlyphs" fill="#fff" stroke="#fff" stroke-width="0.30" xml:space="preserve">$0.68T</text>
<text x="1036.6" y="1849.0" font-size="24.0" textLength="68.1" lengthAdjust="spacingAndGlyphs" fill="#fff" stroke="#fff" stroke-width="0.29" xml:space="preserve">0.85%</text>
<text x="1127.2" y="1695.0" font-size="25.4" textLength="79.1" lengthAdjust="spacingAndGlyphs" fill="#fff" stroke="#fff" stroke-width="0.31" xml:space="preserve">$0.52T</text>
<text x="1106.8" y="1725.0" font-size="25.4" textLength="105.7" lengthAdjust="spacingAndGlyphs" fill="#fff" stroke="#fff" stroke-width="0.31" xml:space="preserve">POLAND</text>
<text x="1113.0" y="1754.0" font-size="24.0" textLength="75.2" lengthAdjust="spacingAndGlyphs" fill="#fff" stroke="#fff" stroke-width="0.29" xml:space="preserve">0.66%</text>
<text x="1120.5" y="1807.5" font-size="24.0" textLength="69.1" lengthAdjust="spacingAndGlyphs" fill="#fff" stroke="#fff" stroke-width="0.29" xml:space="preserve">0.42%</text>
<text x="1121.2" y="1829.0" font-size="24.7" textLength="74.1" lengthAdjust="spacingAndGlyphs" fill="#fff" stroke="#fff" stroke-width="0.30" xml:space="preserve">$0.33T</text>
<text x="1123.3" y="1850.0" font-size="24.0" textLength="39.9" lengthAdjust="spacingAndGlyphs" fill="#fff" stroke="#fff" stroke-width="0.29" xml:space="preserve">IRL</text>
<text x="1178.1" y="1872.5" font-size="24.7" textLength="68.1" lengthAdjust="spacingAndGlyphs" fill="#fff" stroke="#fff" stroke-width="0.30" xml:space="preserve">$0.4T</text>
<text x="1145.8" y="1893.5" font-size="24.7" textLength="113.1" lengthAdjust="spacingAndGlyphs" fill="#fff" stroke="#fff" stroke-width="0.30" xml:space="preserve">NORWAY</text>
<text x="1146.5" y="1914.0" font-size="24.0" textLength="58.2" lengthAdjust="spacingAndGlyphs" fill="#fff" stroke="#fff" stroke-width="0.29" xml:space="preserve">0.5%</text>
<text x="1224.0" y="1740.0" font-size="24.7" textLength="74.2" lengthAdjust="spacingAndGlyphs" fill="#fff" stroke="#fff" stroke-width="0.30" xml:space="preserve">0.68%</text>
<text x="1205.8" y="1771.0" font-size="25.4" textLength="109.9" lengthAdjust="spacingAndGlyphs" fill="#fff" stroke="#fff" stroke-width="0.31" xml:space="preserve">SWEDEN</text>
<text x="1206.2" y="1801.0" font-size="26.2" textLength="82.6" lengthAdjust="spacingAndGlyphs" fill="#fff" stroke="#fff" stroke-width="0.31" xml:space="preserve">$0.54T</text>
<text x="1248.6" y="1634.0" font-size="29.1" textLength="95.2" lengthAdjust="spacingAndGlyphs" fill="#fff" stroke="#fff" stroke-width="0.35" xml:space="preserve">$0.85T</text>
<text x="1248.7" y="1669.0" font-size="29.1" textLength="115.3" lengthAdjust="spacingAndGlyphs" fill="#fff" stroke="#fff" stroke-width="0.35" xml:space="preserve">TURKEY</text>
<text x="1298.2" y="1704.0" font-size="27.6" textLength="79.0" lengthAdjust="spacingAndGlyphs" fill="#fff" stroke="#fff" stroke-width="0.33" xml:space="preserve">1.07%</text>
<text x="1142.7" y="1956.0" font-size="32.0" textLength="187.2" lengthAdjust="spacingAndGlyphs" fill="#fff" stroke="#fff" stroke-width="0.38" xml:space="preserve">AUSTRALIA</text>
<text x="1092.1" y="1996.5" font-size="34.2" textLength="98.3" lengthAdjust="spacingAndGlyphs" fill="#fff" stroke="#fff" stroke-width="0.41" xml:space="preserve">$1.32T</text>
<text x="1058.1" y="2036.0" font-size="32.7" textLength="87.8" lengthAdjust="spacingAndGlyphs" fill="#fff" stroke="#fff" stroke-width="0.39" xml:space="preserve">1.67%</text>
<text x="1510.5" y="1600.0" font-size="39.2" textLength="123.4" lengthAdjust="spacingAndGlyphs" fill="#fff" stroke="#fff" stroke-width="0.47" xml:space="preserve">$1.65T</text>
<text x="1425.8" y="1642.5" font-size="40.0" textLength="181.3" lengthAdjust="spacingAndGlyphs" fill="#fff" stroke="#fff" stroke-width="0.48" xml:space="preserve">CANADA</text>
<text x="1414.5" y="1684.0" font-size="39.2" textLength="121.6" lengthAdjust="spacingAndGlyphs" fill="#fff" stroke="#fff" stroke-width="0.47" xml:space="preserve">2.08%</text>
<text x="216.0" y="1441.0" font-size="28.3" textLength="115.2" lengthAdjust="spacingAndGlyphs" fill="#fff" stroke="#fff" stroke-width="0.34" xml:space="preserve">MEXICO</text>
<text x="217.7" y="1476.0" font-size="29.1" textLength="78.6" lengthAdjust="spacingAndGlyphs" fill="#fff" stroke="#fff" stroke-width="0.35" xml:space="preserve">$1.15T</text>
<text x="216.3" y="1510.0" font-size="27.6" textLength="78.5" lengthAdjust="spacingAndGlyphs" fill="#fff" stroke="#fff" stroke-width="0.33" xml:space="preserve">1.45%</text>
<text x="345.8" y="1565.0" font-size="31.3" textLength="121.2" lengthAdjust="spacingAndGlyphs" fill="#fff" stroke="#fff" stroke-width="0.38" xml:space="preserve">BRAZIL</text>
<text x="363.5" y="1605.0" font-size="32.0" textLength="107.8" lengthAdjust="spacingAndGlyphs" fill="#fff" stroke="#fff" stroke-width="0.38" xml:space="preserve">$2.06T</text>
<text x="395.9" y="1645.0" font-size="31.3" textLength="94.0" lengthAdjust="spacingAndGlyphs" fill="#fff" stroke="#fff" stroke-width="0.38" xml:space="preserve">2.59%</text>
<text x="558.7" y="1485.0" font-size="36.3" textLength="139.8" lengthAdjust="spacingAndGlyphs" fill="#fff" stroke="#fff" stroke-width="0.44" xml:space="preserve">UNITED</text>
<text x="523.5" y="1530.0" font-size="36.3" textLength="184.1" lengthAdjust="spacingAndGlyphs" fill="#fff" stroke="#fff" stroke-width="0.44" xml:space="preserve">KINGDOM</text>
<text x="555.5" y="1576.0" font-size="37.8" textLength="119.9" lengthAdjust="spacingAndGlyphs" fill="#fff" stroke="#fff" stroke-width="0.45" xml:space="preserve">$2.62T</text>
<text x="574.2" y="1620.0" font-size="36.3" textLength="82.8" lengthAdjust="spacingAndGlyphs" fill="#fff" stroke="#fff" stroke-width="0.44" xml:space="preserve">3.3%</text>
<text x="719.2" y="1605.0" font-size="40.0" textLength="172.4" lengthAdjust="spacingAndGlyphs" fill="#fff" stroke="#fff" stroke-width="0.48" xml:space="preserve">FRANCE</text>
<text x="710.4" y="1656.0" font-size="40.7" textLength="131.0" lengthAdjust="spacingAndGlyphs" fill="#fff" stroke="#fff" stroke-width="0.49" xml:space="preserve">$2.58T</text>
<text x="700.1" y="1705.0" font-size="40.0" textLength="117.0" lengthAdjust="spacingAndGlyphs" fill="#fff" stroke="#fff" stroke-width="0.48" xml:space="preserve">3.25%</text>
<text x="596.0" y="1856.0" font-size="48.7" textLength="170.0" lengthAdjust="spacingAndGlyphs" fill="#fff" stroke="#fff" stroke-width="0.58" xml:space="preserve">OTHER</text>
<text x="596.0" y="1916.0" font-size="48.7" textLength="284.9" lengthAdjust="spacingAndGlyphs" fill="#fff" stroke="#fff" stroke-width="0.58" xml:space="preserve">COUNTRIES</text>
<text x="732.9" y="1976.0" font-size="47.2" textLength="138.4" lengthAdjust="spacingAndGlyphs" fill="#fff" stroke="#fff" stroke-width="0.57" xml:space="preserve">7.45%</text>
<text x="55" y="2241.5" font-size="41.8" textLength="419" lengthAdjust="spacingAndGlyphs" fill="#000">Article and Sources:</text>
<g class="lt" fill="#111" stroke="#fff" stroke-width="0.9">
<text x="55" y="2286.4" font-size="40" textLength="1002.5" lengthAdjust="spacingAndGlyphs">https://howmuch.net/articles/the-world-economy-2017</text>
<text x="55" y="2331" font-size="40" textLength="1014.5" lengthAdjust="spacingAndGlyphs">http://databank.worldbank.org/data/download/GDP.pdf</text>
</g>
<text x="1411" y="2334" font-size="137" textLength="268" lengthAdjust="spacingAndGlyphs" fill="#231f20">how</text>
<text x="1678" y="2334" font-size="137" textLength="365" lengthAdjust="spacingAndGlyphs" fill="#86bd66" style="font-weight:bold">much</text>
<text x="2054" y="2283" font-size="36" textLength="77" lengthAdjust="spacingAndGlyphs" fill="#231f20">.net</text>
<g>
<g fill="#fdfdfd" stroke="#bdbdbd" stroke-width="1.2">
<path d="M1622 2234c-17 0-30 10.500-30 24 0 7.500 4 14 10.500 18.500l-2.500 10 11-6c3.500 1 7 1.500 11 1.500 17 0 30-10.500 30-24s-13-24-30-24z"/>
<path d="M1653 2259c-14 0-25.500 9.500-25.500 21s11.500 21 25.500 21c3 0 6-.5 8.500-1.200l9.500 5-2.200-8.500c6-4 9.700-9.800 9.700-16.300 0-11.500-11.500-21-25.500-21z"/>
</g>
<circle cx="1611" cy="2250" r="3.300" fill="#fff" stroke="#aaa" stroke-width="1.200"/><circle cx="1634" cy="2250" r="3.300" fill="#fff" stroke="#aaa" stroke-width="1.200"/>
<circle cx="1643.500" cy="2271" r="3" fill="#444"/><circle cx="1661" cy="2271" r="3" fill="#fff" stroke="#aaa" stroke-width="1.200"/>
<text x="1692" y="2293" font-size="52" textLength="395" lengthAdjust="spacingAndGlyphs" fill="#fff" stroke="#777" stroke-width="0.9" class="wm" style="paint-order:stroke fill">PoPo数据可视化</text>
</g>

</svg></body></html>
